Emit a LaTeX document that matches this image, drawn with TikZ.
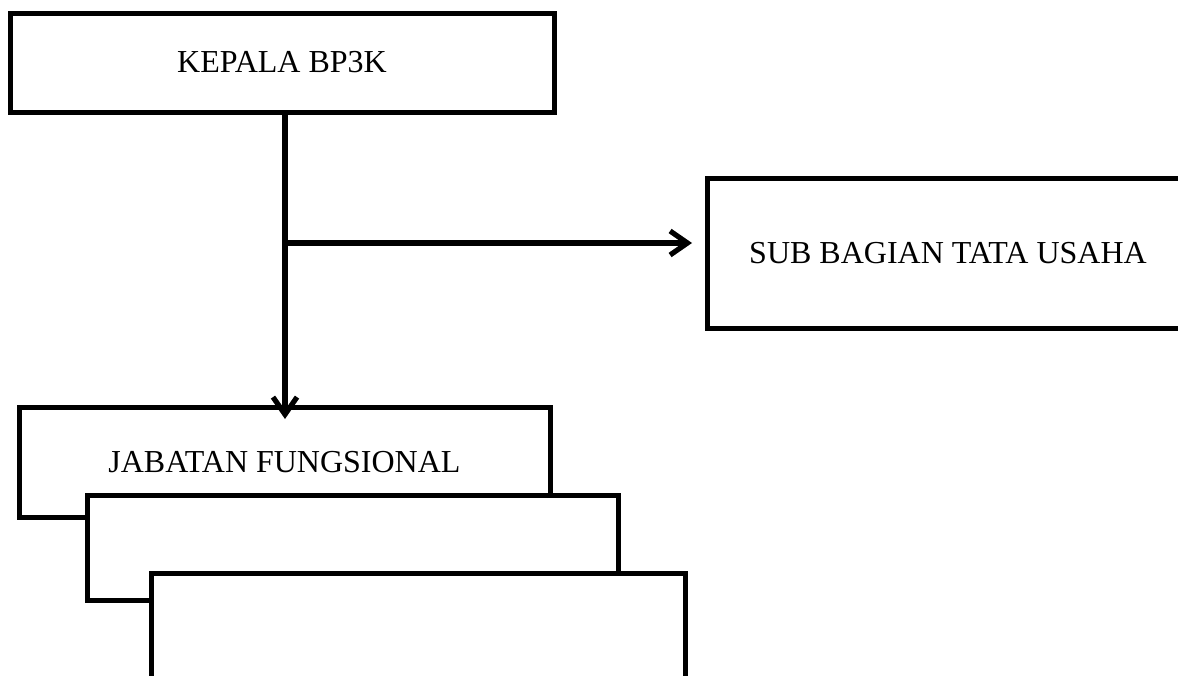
\documentclass[tikz,border=0pt]{standalone}
\usepackage{fontspec}
\setmainfont{Liberation Serif}
\usetikzlibrary{arrows.meta}
\begin{document}
\begin{tikzpicture}[x=0.75pt,y=-0.75pt,
  box/.style={draw=black,fill=white,line width=3.75pt,inner sep=0pt,outer sep=0pt,
    font=\fontsize{24pt}{28pt}\selectfont},
  conn/.style={draw=black,line width=3.9pt,line cap=round,
    -{Straight Barb[length=13pt,width=18pt,line width=3.9pt]}}]
\clip (0,0) rectangle (1178,675);
\fill[white] (0,0) rectangle (1178,675);
\node[box,minimum width=408pt,minimum height=74.25pt] (kepala) at (282,62.5) {KEPALA BP3K};
\node[box,minimum width=361.5pt,minimum height=112.5pt] (sub) at (948,253) {SUB BAGIAN TATA USAHA};
\node[box,minimum width=398.25pt,minimum height=82.5pt] (jab1) at (284.5,462) {JABATAN FUNGSIONAL};
\node[box,minimum width=398.25pt,minimum height=78.75pt] (jab2) at (352.5,547.5) {};
\node[box,minimum width=400.5pt,minimum height=87.75pt] (jab3) at (418,631.5) {};
\coordinate (top) at (285,115);
\coordinate (branch) at (285,243);
\coordinate (subtip) at (692,243);
\coordinate (jabtip) at (285,419);
\draw[conn] (top) -- (jabtip);
\draw[conn] (branch) -- (subtip);
\end{tikzpicture}
\end{document}
